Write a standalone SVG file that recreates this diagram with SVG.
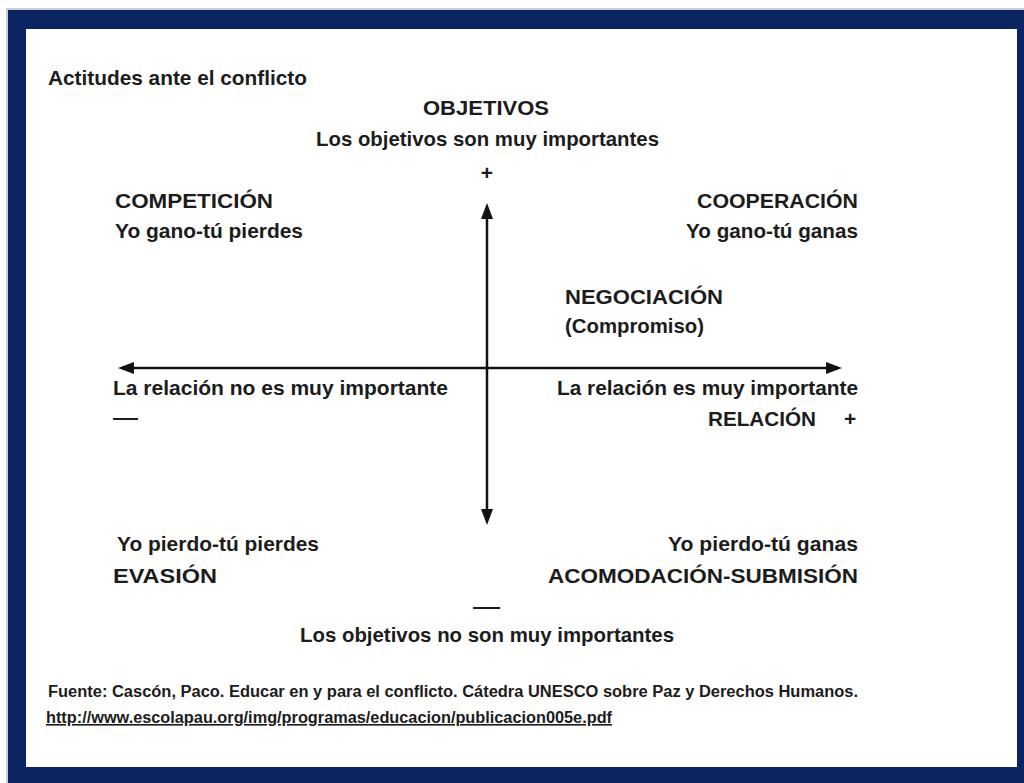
<svg xmlns="http://www.w3.org/2000/svg" width="1024" height="783" viewBox="0 0 1024 783">
<style>
text{font-family:"Liberation Sans Narrow","Liberation Sans",Arial,sans-serif;font-weight:bold;fill:#1c1c1c;font-size:21px}
.sm{font-size:16px}
.axis{stroke:#111;stroke-width:2.5;fill:none}
</style>
<defs>
<marker id="ah" viewBox="0 0 16 12" markerWidth="16" markerHeight="12" markerUnits="userSpaceOnUse" refX="4" refY="6" orient="auto-start-reverse">
<path d="M0,0 L16,6 L0,12 z" fill="#111"/>
</marker>
</defs>
<rect x="6" y="8" width="1018" height="775" fill="#c9cdd8"/>
<rect x="8" y="10" width="1016" height="773" fill="#0b2562"/>
<rect x="26" y="29" width="991" height="738" fill="#ffffff"/>
<g id="connectors">
<line class="axis" x1="130" y1="368" x2="830" y2="368" marker-start="url(#ah)" marker-end="url(#ah)"/>
<line class="axis" x1="487" y1="215" x2="487" y2="513" marker-start="url(#ah)" marker-end="url(#ah)"/>
</g>
<g id="title"><text x="48" y="85" textLength="259" lengthAdjust="spacingAndGlyphs">Actitudes ante el conflicto</text></g>
<g id="objetivos-top">
<text x="423" y="115" textLength="126" lengthAdjust="spacingAndGlyphs" font-size="20">OBJETIVOS</text>
<text x="316" y="146" textLength="343" lengthAdjust="spacingAndGlyphs">Los objetivos son muy importantes</text>
<text x="487" y="180" text-anchor="middle">+</text>
</g>
<g id="competicion">
<text x="115" y="208" textLength="158" lengthAdjust="spacingAndGlyphs" font-size="20">COMPETICIÓN</text>
<text x="115" y="238" textLength="188" lengthAdjust="spacingAndGlyphs">Yo gano-tú pierdes</text>
</g>
<g id="cooperacion">
<text x="697" y="208" textLength="161" lengthAdjust="spacingAndGlyphs" font-size="20">COOPERACIÓN</text>
<text x="686" y="238" textLength="172" lengthAdjust="spacingAndGlyphs">Yo gano-tú ganas</text>
</g>
<g id="negociacion">
<text x="565" y="304" textLength="158" lengthAdjust="spacingAndGlyphs" font-size="20">NEGOCIACIÓN</text>
<text x="565" y="333" textLength="139" lengthAdjust="spacingAndGlyphs">(Compromiso)</text>
</g>
<g id="relacion-menos">
<text x="113" y="395" textLength="335" lengthAdjust="spacingAndGlyphs">La relación no es muy importante</text>
<text x="113" y="424" textLength="25" lengthAdjust="spacingAndGlyphs">—</text>
</g>
<g id="relacion-mas">
<text x="557" y="395" textLength="301" lengthAdjust="spacingAndGlyphs">La relación es muy importante</text>
<text x="708" y="426" textLength="108" lengthAdjust="spacingAndGlyphs" font-size="20">RELACIÓN</text>
<text x="844" y="426">+</text>
</g>
<g id="evasion">
<text x="117" y="551" textLength="202" lengthAdjust="spacingAndGlyphs">Yo pierdo-tú pierdes</text>
<text x="113" y="583" textLength="104" lengthAdjust="spacingAndGlyphs" font-size="20">EVASIÓN</text>
</g>
<g id="acomodacion">
<text x="668" y="551" textLength="190" lengthAdjust="spacingAndGlyphs">Yo pierdo-tú ganas</text>
<text x="548" y="583" textLength="310" lengthAdjust="spacingAndGlyphs" font-size="20">ACOMODACIÓN-SUBMISIÓN</text>
</g>
<g id="objetivos-bottom">
<text x="473" y="613" textLength="27" lengthAdjust="spacingAndGlyphs">—</text>
<text x="300" y="642" textLength="374" lengthAdjust="spacingAndGlyphs">Los objetivos no son muy importantes</text>
</g>
<g id="fuente">
<text class="sm" x="48" y="697" textLength="810" lengthAdjust="spacingAndGlyphs">Fuente: Cascón, Paco. Educar en y para el conflicto. Cátedra UNESCO sobre Paz y Derechos Humanos.</text>
<text class="sm" x="46" y="723" textLength="566" lengthAdjust="spacingAndGlyphs" text-decoration="underline">http://www.escolapau.org/img/programas/educacion/publicacion005e.pdf</text>
</g>
</svg>
